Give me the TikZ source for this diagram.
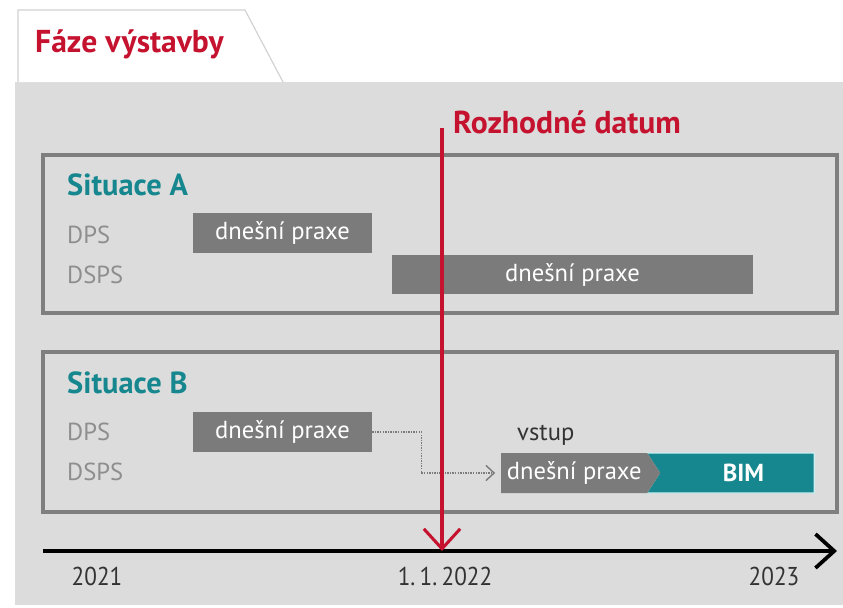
\documentclass[tikz,border=0pt]{standalone}
\usepackage{fontspec}
\setmainfont{PT Sans}
\newfontfamily\narrowfont[FakeStretch=0.9]{PT Sans}
\usetikzlibrary{arrows.meta,shapes.symbols}
\definecolor{bggray}{HTML}{DCDCDC}
\definecolor{framegray}{HTML}{7F7F7F}
\definecolor{bargray}{HTML}{7B7B7B}
\definecolor{labelgray}{HTML}{8E8E8E}
\definecolor{datumred}{HTML}{C4122F}
\definecolor{bimteal}{HTML}{16878E}
\definecolor{bimedge}{HTML}{CDEEF0}
\definecolor{tabline}{HTML}{D2D2D2}
\definecolor{textdark}{HTML}{333333}
\tikzset{
  frame/.style={draw=framegray, line width=2.6pt},
  bar/.style={fill=bargray, text=white, inner sep=0pt, font=\fontsize{21}{24}\selectfont},
  chev/.style={bar, shape=signal, signal to=east, signal pointer angle=114,
    minimum width=4.77cm, minimum height=1.2cm},
  bimbox/.style={shape=signal, signal from=west, signal to=nowhere, signal pointer angle=114,
    fill=bimteal, draw=bimedge, line width=1.2pt, text=white, inner sep=0pt,
    minimum width=5.04cm, minimum height=1.2cm, font=\fontsize{21}{24}\selectfont\bfseries},
  rowlabel/.style={anchor=base west, text=labelgray, inner sep=0pt, font=\fontsize{21}{24}\selectfont},
  situace/.style={anchor=base west, text=bimteal, inner sep=0pt, font=\fontsize{26}{30}\selectfont\bfseries},
  redtitle/.style={anchor=base west, inner sep=0pt, text=datumred, font=\fontsize{27}{30}\selectfont\bfseries},
  year/.style={text=textdark, inner sep=0pt, font=\narrowfont\fontsize{22}{26}\selectfont},
  link/.style={densely dotted, draw=bargray, line width=1.2pt,
    -{Straight Barb[length=7pt, width=13pt, line width=1.2pt]}, shorten >=5pt},
}
\begin{document}
\begin{tikzpicture}[x=0.03cm, y=-0.03cm]
  \useasboundingbox (0,0) rectangle (843,607);
  \fill[white] (0,0) rectangle (843,607);
  \fill[bggray] (15,82) rectangle (843,605);
  \filldraw[fill=white, draw=tabline, line width=1pt] (18,82) -- (18,10) -- (245,10) -- (283,82);
  \node[redtitle] (faze) at (35,52) {Fáze výstavby};

  % situace A
  \draw[frame] (43,155) rectangle (837,313);
  \node[situace] (sita) at (67,195) {Situace A};
  \node[rowlabel] (adps) at (67,243) {DPS};
  \node[rowlabel] (adsps) at (67,283) {DSPS};
  \node[bar, minimum width=5.34cm, minimum height=1.2cm] (a1) at (282.5,233) {dnešní praxe};
  \node[bar, minimum width=10.83cm, minimum height=1.17cm] (a2) at (572.5,274.5) {dnešní praxe};

  % situace B
  \draw[frame] (43,352) rectangle (837,512);
  \node[situace] (sitb) at (67,393) {Situace B};
  \node[rowlabel] (bdps) at (67,440) {DPS};
  \node[rowlabel] (bdsps) at (67,480) {DSPS};
  \node[bar, minimum width=5.37cm, minimum height=1.2cm] (b1) at (282.5,432) {dnešní praxe};
  \node[bimbox, anchor=east] (bim) at (815,473) {\hspace*{0.4cm}BIM};
  \node[chev, anchor=west] (bnow) at (501,473) {dnešní praxe};
  \node[anchor=base west, inner sep=0pt, text=textdark, font=\fontsize{21}{24}\selectfont]
    (vstup) at (517,440) {vstup};
  \draw[link] (b1.east) -- ++(49,0) |- (bnow.west);

  % osa
  \coordinate (t0) at (43,551);
  \coordinate (t1) at (837,551);
  \draw[line width=3.2pt, -{Straight Barb[length=16pt, width=29pt, line width=3.2pt]}] (t0) -- (t1);
  \node[year] (y1) at (97,576) {2021};
  \node[year] (y2) at (445,576) {1.\,1.\,2022};
  \node[year] (y3) at (774,576) {2023};

  % datum
  \coordinate (dtop) at (442,128);
  \node[redtitle] (datum) at (453,133) {Rozhodné datum};
  \draw[datumred, line width=2.6pt, -{Straight Barb[length=17pt, width=31pt, line width=2.6pt]}]
    (dtop) -- (dtop |- t0);
\end{tikzpicture}
\end{document}
